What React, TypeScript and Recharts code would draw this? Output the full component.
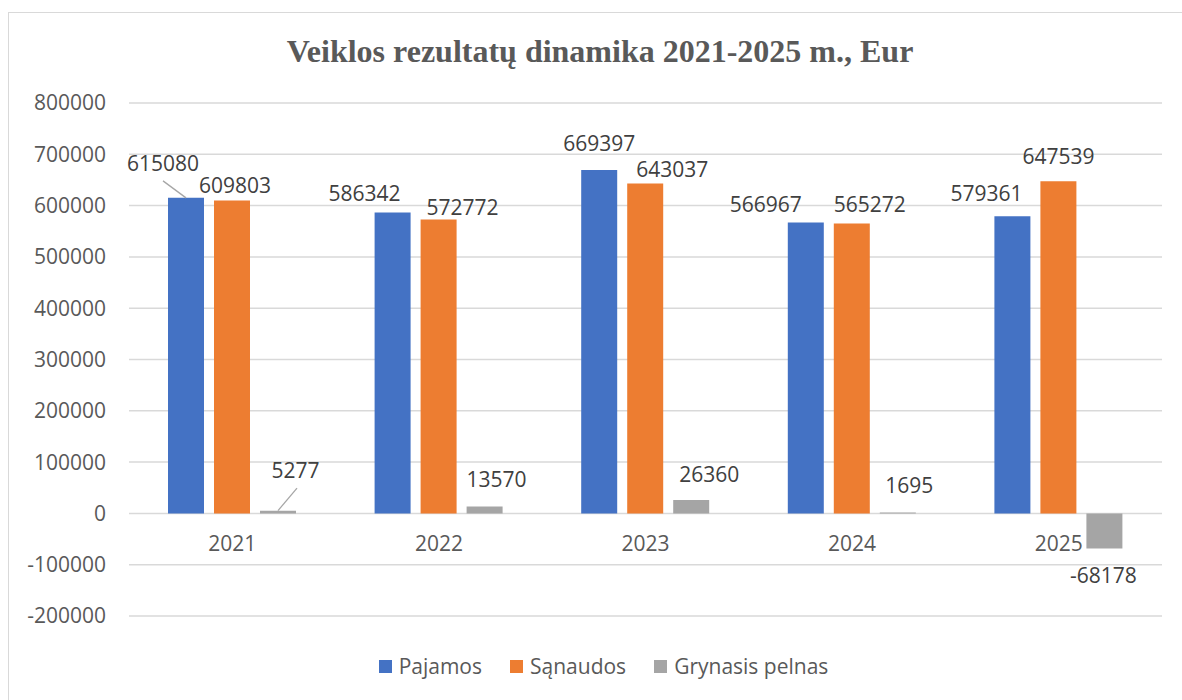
import React from 'react';
import { BarChart, Bar, XAxis, YAxis, CartesianGrid, Legend, LabelList } from 'recharts';

// ---- data ----
const YEARS = ['2021', '2022', '2023', '2024', '2025'];
const PAJAMOS = [615080, 586342, 669397, 566967, 579361];
const SANAUDOS = [609803, 572772, 643037, 565272, 647539];
const GRYNASIS = [5277, 13570, 26360, 1695, -68178];
const Y_TICKS = [-200000, -100000, 0, 100000, 200000, 300000, 400000, 500000, 600000, 700000, 800000];
const SERIES_NAMES = ['Pajamos', 'Sąnaudos', 'Grynasis pelnas'];
const TITLE = 'Veiklos rezultatų dinamika 2021-2025 m., Eur';

// ---- styles ----
const COLORS = ['#4472C4', '#ED7D31', '#A5A5A5'];
const FONT = '"Open Sans", "Liberation Sans", sans-serif';
const CHART_W = 1174;
const CHART_H = 692;
const MARGIN = { top: 95, right: 20, bottom: 54, left: 0 };
const X_AXIS_H = 30;
const Y_MIN = -200000;
const Y_MAX = 800000;
const PLOT_TOP = MARGIN.top;
const PLOT_BOTTOM = CHART_H - MARGIN.bottom - X_AXIS_H;
const ZERO_Y = PLOT_BOTTOM - ((0 - Y_MIN) / (Y_MAX - Y_MIN)) * (PLOT_BOTTOM - PLOT_TOP);

// label placement (manual label moves in the original): horizontal shift and distance from bar end
const P_DX = [-23, -28, 0, -40, -26];
const P_UP = [34, 19, 26, 18, 23];
const S_DX = [3, 24, 27, 18, 0];
const S_UP = [15, 12, 14, 18.5, 25];
const G_DX = [17.5, 12, 18, 11.5, -1];
const G_UP = [40, 26.5, 25.5, 27, 27];
// leader lines: [dx, dy] from label centre, or null
const P_LEAD: (number[] | null)[] = [[0, 17], null, null, null, null];
const S_LEAD: (number[] | null)[] = [null, null, null, null, null];
const G_LEAD: (number[] | null)[] = [[1.5, 17.5], null, null, null, null];

const data = YEARS.map((y, i) => ({
  year: y,
  pajamos: PAJAMOS[i],
  sanaudos: SANAUDOS[i],
  grynasis: GRYNASIS[i],
}));

const makeLabel = (values: number[], dxArr: number[], upArr: number[], leads: (number[] | null)[]) => (props: any) => {
  const vb = props.viewBox || {};
  const x = Number(props.x ?? vb.x);
  const y = Number(props.y ?? vb.y);
  const w = Number(props.width ?? vb.width);
  const h = Number(props.height ?? vb.height);
  const value = Number(props.value);
  let idx = props.index;
  if (idx === undefined || idx === null) idx = values.indexOf(value);
  const top = Math.min(y, y + h);
  const bottom = Math.max(y, y + h);
  const cx = x + w / 2;
  const tx = cx + dxArr[idx];
  const ty = value >= 0 ? top - upArr[idx] : bottom + upArr[idx];
  const lead = leads[idx];
  return (
    <g>
      {lead ? (
        <line x1={tx + lead[0]} y1={ty + lead[1]} x2={cx} y2={top} stroke="#a6a6a6" strokeWidth={1.3} />
      ) : null}
      <text x={tx} y={ty + 7.5} textAnchor="middle" fill="#404040" fontSize={21} fontFamily={FONT}>
        {String(value)}
      </text>
    </g>
  );
};

const XTick = (props: any) => {
  const { x, payload } = props;
  return (
    <text x={x} y={ZERO_Y + 37.5} textAnchor="middle" fill="#595959" fontSize={21} fontFamily={FONT}>
      {payload.value}
    </text>
  );
};

const LegendContent = () => (
  <div
    style={{
      display: 'flex',
      justifyContent: 'center',
      alignItems: 'center',
      height: 24,
      fontFamily: FONT,
      fontSize: 21,
      lineHeight: '24px',
      color: '#595959',
    }}
  >
    {SERIES_NAMES.map((n, i) => (
      <div key={n} style={{ display: 'flex', alignItems: 'center', marginRight: i < SERIES_NAMES.length - 1 ? 28 : 0 }}>
        <div style={{ width: 13, height: 13, background: COLORS[i], marginRight: 7 }} />
        <span>{n}</span>
      </div>
    ))}
  </div>
);

export default function App() {
  return (
    <div
      style={{
        position: 'fixed',
        left: 8,
        top: 8,
        width: CHART_W,
        height: CHART_H,
        overflow: 'hidden',
        background: '#fff',
      }}
    >
      <div
        style={{
          position: 'absolute',
          left: 0,
          top: 4,
          width: CHART_W + 40,
          height: CHART_H + 40,
          borderTop: '1.5px solid #d9d9d9',
          borderLeft: '1.5px solid #d9d9d9',
          boxSizing: 'border-box',
        }}
      />
      <svg width={CHART_W} height={80} style={{ position: 'absolute', left: 0, top: 0 }}>
        <text
          x={592}
          y={54}
          textAnchor="middle"
          fontFamily='"Liberation Serif", "Times New Roman", serif'
          fontWeight="bold"
          fontSize={32}
          fill="#595959"
        >
          {TITLE}
        </text>
      </svg>
      <div style={{ position: 'absolute', left: 0, top: 0 }}>
        <BarChart width={CHART_W} height={CHART_H} data={data} margin={MARGIN} barGap={10}>
          <CartesianGrid vertical={false} stroke="#d9d9d9" strokeWidth={1.5} />
          <XAxis
            dataKey="year"
            height={X_AXIS_H}
            axisLine={false}
            tickLine={false}
            tick={<XTick />}
            interval={0}
          />
          <YAxis
            width={121}
            domain={[Y_MIN, Y_MAX]}
            ticks={Y_TICKS}
            interval={0}
            axisLine={false}
            tickLine={false}
            tickSize={0}
            tickMargin={23}
            tick={{ fill: '#595959', fontSize: 21, fontFamily: FONT }}
          />
          <Legend
            layout="horizontal"
            verticalAlign="middle"
            align="center"
            wrapperStyle={{ top: 646, left: 0, width: 1191 }}
            content={<LegendContent />}
          />
          <Bar dataKey="pajamos" name={SERIES_NAMES[0]} fill={COLORS[0]} barSize={36} isAnimationActive={false}>
            <LabelList dataKey="pajamos" content={makeLabel(PAJAMOS, P_DX, P_UP, P_LEAD)} />
          </Bar>
          <Bar dataKey="sanaudos" name={SERIES_NAMES[1]} fill={COLORS[1]} barSize={36} isAnimationActive={false}>
            <LabelList dataKey="sanaudos" content={makeLabel(SANAUDOS, S_DX, S_UP, S_LEAD)} />
          </Bar>
          <Bar dataKey="grynasis" name={SERIES_NAMES[2]} fill={COLORS[2]} barSize={36} isAnimationActive={false}>
            <LabelList dataKey="grynasis" content={makeLabel(GRYNASIS, G_DX, G_UP, G_LEAD)} />
          </Bar>
        </BarChart>
      </div>
    </div>
  );
}
